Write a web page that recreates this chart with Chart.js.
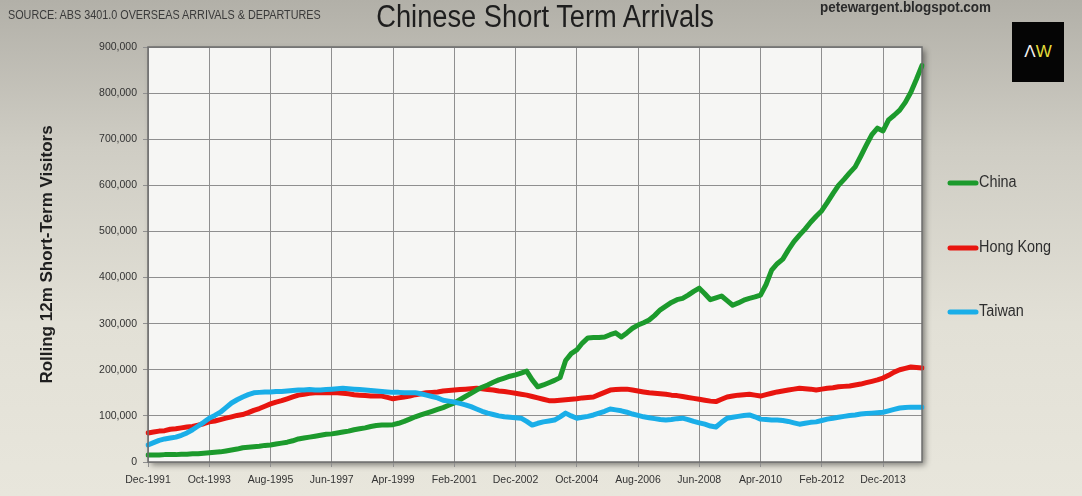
<!DOCTYPE html>
<html>
<head>
<meta charset="utf-8">
<script src="https://cdn.jsdelivr.net/npm/chart.js@4.4.1/dist/chart.umd.min.js"></script>
<style>
  html, body { margin: 0; padding: 0; }
  body {
    width: 1082px; height: 496px; overflow: hidden; position: relative;
    background: linear-gradient(to bottom, #b2b0a8 0%, #cfcdc4 30%, #e2e0d6 65%, #e8e6dc 100%);
    font-family: "Liberation Sans", Arial, sans-serif;
  }
  #wrap { position: absolute; left: 0; top: 0; width: 1082px; height: 496px; }
  #source { position: absolute; left: 8px; top: 8px; font-size: 12px; color: #3a3a3a;
            transform: scaleX(0.9); transform-origin: left top; white-space: nowrap; }
  #title { position: absolute; left: 545px; top: -1px; font-size: 31px; color: #1e1e1e; white-space: nowrap;
           transform: translateX(-50%) scaleX(0.88); }
  #site { position: absolute; left: 820px; top: -1px; font-size: 14px; font-weight: bold; color: #2a2a2a;
          transform: scaleX(0.96); transform-origin: left top; white-space: nowrap; }
  #logo { position: absolute; left: 1012px; top: 22px; width: 52px; height: 60px; background: #050505;
          color: #f2f2f2; font-size: 17px; text-align: center; line-height: 60px; }
  #logo span { color: #e4dc3a; }
</style>
</head>
<body>
<div id="wrap"><canvas id="myChart" width="1082" height="496"></canvas></div>
<div id="source">SOURCE: ABS 3401.0 OVERSEAS ARRIVALS &amp; DEPARTURES</div>
<div id="title">Chinese Short Term Arrivals</div>
<div id="site">petewargent.blogspot.com</div>
<div id="logo">&Lambda;<span>W</span></div>
<script>
// Rolling 12m short-term visitors, thousands, every second month from Dec-1991
var china = [
    15, 15, 15, 16, 16, 16, 17, 17, 18, 18, 19, 20,
    21, 22, 24, 26, 28, 31, 32, 33, 34, 36, 37,
    39, 41, 43, 46, 50, 52, 54, 56, 58, 60, 61,
    63, 65, 67, 70, 72, 74, 77, 79, 80, 80, 81,
    84, 88, 93, 98, 102, 106, 110, 114, 118, 123, 128,
    135, 142, 149, 156, 162, 167, 173, 178, 182, 186, 189,
    193, 197, 178, 163, 167, 172, 177, 183, 220, 235, 243,
    258, 269, 270, 270, 271, 276, 280, 271, 280, 290, 297,
    302, 308, 318, 330, 338, 346, 352, 355, 362, 370, 377,
    365, 352, 356, 360, 350, 340, 345, 351, 355, 358, 362,
    385, 416, 430, 440, 460, 478, 492, 505, 520, 533, 545,
    563, 582, 600, 613, 627, 640, 663, 687, 710, 724, 718,
    742, 752, 763, 780, 802, 830, 860
];
var hongKong = [
    63, 65, 67, 68, 71, 72, 74, 76, 77, 80, 83, 87,
    89, 92, 95, 98, 101, 103, 107, 112, 116, 121, 126,
    130, 133, 137, 141, 145, 147, 149, 150, 150, 150, 150,
    150, 149, 148, 146, 145, 144, 143, 143, 143, 140, 137,
    139, 141, 143, 146, 148, 150, 151, 152, 154, 155, 156,
    157, 158, 159, 160, 159, 157, 156, 154, 153, 151, 149,
    147, 145, 142, 139, 136, 133, 133, 134, 135, 136, 137,
    139, 140, 141, 146, 151, 156, 157, 158, 158, 156, 154,
    152, 150, 149, 148, 147, 145, 144, 142, 140, 138, 136,
    134, 132, 131, 136, 141, 143, 145, 146, 147, 145, 143,
    146, 149, 152, 154, 156, 158, 160, 159, 158, 156, 158,
    160, 161, 163, 164, 165, 167, 169, 172, 175, 178, 182,
    188, 195, 200, 203, 206, 205, 204
];
var taiwan = [
    37, 42, 47, 50, 52, 54, 58, 63, 70, 78, 86, 95,
    101, 108, 118, 128, 135, 141, 146, 150, 151, 152, 152,
    153, 153, 154, 155, 156, 156, 157, 156, 156, 157, 158,
    159, 160, 159, 158, 157, 156, 155, 154, 153, 152, 151,
    151, 150, 150, 150, 148, 145, 142, 139, 134, 132, 130,
    127, 124, 120, 115, 110, 106, 103, 100, 98, 97, 96,
    95, 88, 80, 84, 87, 89, 91, 98, 106, 100, 95,
    97, 99, 102, 106, 110, 115, 113, 111, 108, 104, 101,
    98, 96, 94, 92, 91, 92, 94, 95, 92, 88, 85,
    82, 78, 76, 86, 95, 97, 99, 101, 102, 98, 93,
    92, 91, 91, 90, 88, 85, 82, 84, 86, 87, 90,
    93, 95, 97, 99, 101, 102, 104, 105, 106, 107, 108,
    111, 114, 117, 118, 119, 119, 119
];

// tick labels shown on the x axis (every 22 months)
var tickLabels = ["Dec-1991", "Oct-1993", "Aug-1995", "Jun-1997", "Apr-1999", "Feb-2001",
    "Dec-2002", "Oct-2004", "Aug-2006", "Jun-2008", "Apr-2010", "Feb-2012", "Dec-2013"];

// categories: one per two months, starting Dec-1991
var monthNames = ["Jan", "Feb", "Mar", "Apr", "May", "Jun", "Jul", "Aug", "Sep", "Oct", "Nov", "Dec"];
var periods = [];
for (var i = 0; i < china.length; i++) {
    var m = 11 + i * 2;
    periods.push(monthNames[m % 12] + "-" + (1991 + Math.floor(m / 12)));
}

var tickFont = "'Liberation Sans', Arial, sans-serif";

// plot background with a soft shadow, and the border on top
var plotFrame = {
    id: "plotFrame",
    beforeDraw: function(chart) {
        var a = chart.chartArea, ctx = chart.ctx;
        ctx.save();
        ctx.shadowColor = "rgba(0,0,0,0.45)";
        ctx.shadowBlur = 6;
        ctx.shadowOffsetX = 3;
        ctx.shadowOffsetY = 3;
        ctx.fillStyle = "#f6f6f4";
        ctx.fillRect(a.left, a.top, a.right - a.left, a.bottom - a.top);
        ctx.restore();
    },
    afterDraw: function(chart) {
        var a = chart.chartArea, ctx = chart.ctx;
        ctx.save();
        ctx.strokeStyle = "#6e6e6e";
        ctx.lineWidth = 1.5;
        ctx.strokeRect(a.left, a.top, a.right - a.left, a.bottom - a.top);
        ctx.restore();
    }
};

// legend to the right of the plot, spaced like the original
var sideLegend = {
    id: "sideLegend",
    afterDraw: function(chart) {
        var ctx = chart.ctx;
        var ys = [183, 248, 312];
        ctx.save();
        ctx.font = "16px " + tickFont;
        ctx.textBaseline = "middle";
        chart.data.datasets.forEach(function(ds, k) {
            ctx.strokeStyle = ds.borderColor;
            ctx.lineWidth = 5;
            ctx.lineCap = "round";
            ctx.beginPath();
            ctx.moveTo(950, ys[k]);
            ctx.lineTo(976, ys[k]);
            ctx.stroke();
            ctx.save();
            ctx.translate(979, ys[k]);
            ctx.scale(0.9, 1);
            ctx.fillStyle = "#2e2e2e";
            ctx.fillText(ds.label, 0, 0);
            ctx.restore();
        });
        ctx.restore();
    }
};

var ctx = document.getElementById("myChart").getContext("2d");
var myChart = new Chart(ctx, {
    type: "line",
    data: {
        labels: periods,
        datasets: [
            { label: "China", data: china, borderColor: "#1c9a2c", order: 1 },
            { label: "Hong Kong", data: hongKong, borderColor: "#e8150f", order: 2 },
            { label: "Taiwan", data: taiwan, borderColor: "#1aaee8", order: 0 }
        ]
    },
    options: {
        responsive: false,
        animation: false,
        layout: { padding: { left: 0, top: 47, right: 160, bottom: 0 } },
        elements: {
            line: { borderWidth: 5, tension: 0, borderJoinStyle: "round", borderCapStyle: "round", fill: false },
            point: { radius: 0 }
        },
        plugins: {
            legend: { display: false },
            tooltip: { enabled: false }
        },
        scales: {
            x: {
                offset: false,
                afterFit: function(scale) { scale.height = 34; },
                grid: { color: "#8f8f8f", lineWidth: 1, tickLength: 5, tickColor: "#8f8f8f" },
                border: { display: false },
                ticks: {
                    autoSkip: false,
                    maxRotation: 0,
                    padding: 7,
                    color: "#333",
                    font: { size: 10.5, family: tickFont },
                    callback: function(value, index) {
                        return index % 11 === 0 ? tickLabels[index / 11] : null;
                    }
                }
            },
            y: {
                min: 0,
                max: 900,
                afterFit: function(scale) { scale.width = 148; },
                grid: { color: "#8f8f8f", lineWidth: 1, tickLength: 5, tickColor: "#8f8f8f" },
                border: { display: false },
                title: {
                    display: true,
                    text: "Rolling 12m Short-Term Visitors",
                    color: "#1e1e1e",
                    font: { size: 17, weight: "bold", family: tickFont },
                    padding: { top: 37, bottom: 0 }
                },
                ticks: {
                    stepSize: 100,
                    padding: 6,
                    color: "#333",
                    font: { size: 10.5, family: tickFont },
                    callback: function(v) { return v === 0 ? "0" : (v * 1000).toLocaleString("en-US"); }
                }
            }
        }
    },
    plugins: [plotFrame, sideLegend]
});
</script>
</body>
</html>
